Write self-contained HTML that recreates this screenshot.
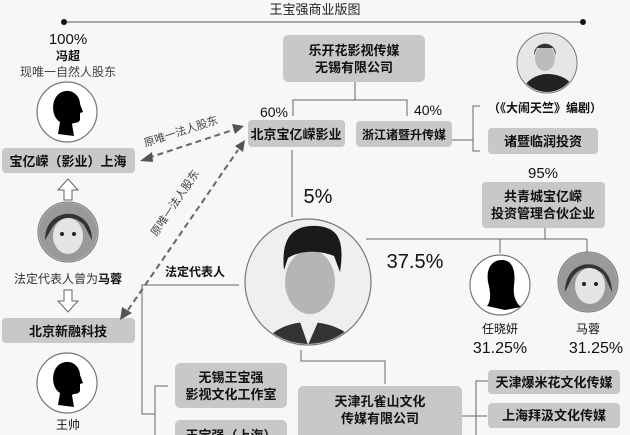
<!DOCTYPE html>
<html><head><meta charset="utf-8"><style>
html,body{margin:0;padding:0;background:#f7f7f7;}
svg{display:block;font-family:"Liberation Sans","Noto Sans CJK SC",sans-serif;}
.b{font-weight:bold;}
</style></head><body>
<svg width="630" height="435" viewBox="0 0 630 435" xmlns="http://www.w3.org/2000/svg">
<defs>
<clipPath id="c1"><circle cx="308" cy="282" r="62"/></clipPath>
<clipPath id="c2"><circle cx="547" cy="63" r="29"/></clipPath>
<clipPath id="cm1"><circle cx="68" cy="232" r="29"/></clipPath>
<clipPath id="cm2"><circle cx="588" cy="282" r="29"/></clipPath>
</defs>
<rect width="630" height="435" fill="#f7f7f7"/>
<text x="315" y="14" font-size="13" text-anchor="middle" fill="#222">王宝强商业版图</text>
<line x1="64" y1="22" x2="583" y2="22" stroke="#555" stroke-width="1"/>
<circle cx="64" cy="22" r="3" fill="#111"/><circle cx="583" cy="22" r="3" fill="#111"/>

<text x="68" y="44" font-size="15" text-anchor="middle" fill="#111">100%</text>
<text x="68" y="60" font-size="12" text-anchor="middle" fill="#111" class="b">冯超</text>
<text x="68" y="76" font-size="12" text-anchor="middle" fill="#444">现唯一自然人股东</text>
<circle cx="67" cy="112" r="30" fill="#fff" stroke="#777" stroke-width="1.2"/>
<path d="M58 134 L60 122 C50 116 51 96 62 92 C72 88 80 96 80 104 L83 112 L80 113 L80 120 C78 124 74 122 72 124 L74 136 Z" fill="#000"/>
<rect x="2" y="148" width="133" height="25" rx="4" fill="#c8c8c8"/>
<text x="68" y="166" font-size="13" text-anchor="middle" fill="#111" class="b">宝亿嵘（影业）上海</text>
<path d="M64 200 L64 190 L58 190 L68 179 L78 190 L72 190 L72 200 Z" fill="#fff" stroke="#666"/>
<circle cx="68" cy="232" r="30" fill="#ccc" stroke="#777"/>
<g clip-path="url(#cm1)"><rect x="38" y="202" width="60" height="60" fill="#999"/><ellipse cx="68" cy="236" rx="15" ry="18" fill="#e4e4e4"/><path d="M45 240 C45 205 92 205 92 240 L84 225 C75 215 60 215 52 228 Z" fill="#333"/><circle cx="62" cy="234" r="2" fill="#222"/><circle cx="74" cy="234" r="2" fill="#222"/></g>
<text x="68" y="283" font-size="12" text-anchor="middle" fill="#333">法定代表人曾为<tspan font-weight="bold" fill="#111">马蓉</tspan></text>
<path d="M64 290 L64 301 L58 301 L68 312 L78 301 L72 301 L72 290 Z" fill="#fff" stroke="#666"/>
<rect x="2" y="318" width="133" height="25" rx="4" fill="#c8c8c8"/>
<text x="68" y="336" font-size="13" text-anchor="middle" fill="#111" class="b">北京新融科技</text>
<circle cx="67" cy="383" r="30" fill="#fff" stroke="#777" stroke-width="1.2"/>
<path d="M58 405 L60 393 C50 387 51 367 62 363 C72 359 80 367 80 375 L83 383 L80 384 L80 391 C78 395 74 393 72 395 L74 407 Z" fill="#000"/>
<text x="68" y="429" font-size="12" text-anchor="middle" fill="#111">王帅</text>

<line x1="148" y1="158" x2="236" y2="129" stroke="#666" stroke-width="2" stroke-dasharray="6,4"/>
<path d="M140 161 L152 152 L153 162 Z" fill="#555"/>
<path d="M244 126 L232 124 L235 134 Z" fill="#555"/>
<line x1="128" y1="310" x2="238" y2="150" stroke="#666" stroke-width="2" stroke-dasharray="6,4"/>
<path d="M120 320 L122 307 L132 313 Z" fill="#555"/>
<path d="M245 140 L235 146 L243 152 Z" fill="#555"/>
<text x="182" y="135" font-size="11" fill="#444" text-anchor="middle" transform="rotate(-18 182 135)">原唯一法人股东</text>
<text x="178" y="205" font-size="11" fill="#444" text-anchor="middle" transform="rotate(-56 178 205)">原唯一法人股东</text>

<rect x="283" y="35" width="142" height="47" rx="5" fill="#c8c8c8"/>
<text x="354" y="55" font-size="13" text-anchor="middle" fill="#111" class="b">乐开花影视传媒</text>
<text x="354" y="72" font-size="13" text-anchor="middle" fill="#111" class="b">无锡有限公司</text>
<polyline points="355,82 355,100" fill="none" stroke="#666"/>
<polyline points="293,116 293,100 407,100 407,116" fill="none" stroke="#666"/>
<text x="274" y="117" font-size="14" text-anchor="middle" fill="#111">60%</text>
<text x="428" y="115" font-size="14" text-anchor="middle" fill="#111">40%</text>
<rect x="248" y="120" width="97" height="27" rx="4" fill="#c8c8c8"/>
<text x="296" y="139" font-size="13" text-anchor="middle" fill="#111" class="b">北京宝亿嵘影业</text>
<rect x="356" y="121" width="96" height="26" rx="4" fill="#c8c8c8"/>
<text x="404" y="139" font-size="12" text-anchor="middle" fill="#111" class="b">浙江诸暨升传媒</text>
<polyline points="452,140 473,140" fill="none" stroke="#666"/>
<polyline points="480,106 473,106 473,151 480,151" fill="none" stroke="#666"/>

<circle cx="547" cy="63" r="30" fill="#eee" stroke="#777"/>
<g clip-path="url(#c2)"><rect x="517" y="33" width="60" height="60" fill="#e6e6e6"/><path d="M520 95 C525 78 540 74 547 74 C558 74 572 78 578 95 Z" fill="#222"/><ellipse cx="545" cy="58" rx="10" ry="13" fill="#bbb"/><path d="M534 55 C534 40 556 40 556 55 L553 48 L537 48 Z" fill="#333"/></g>
<text x="545" y="112" font-size="12" text-anchor="middle" fill="#111" class="b">（《大闹天竺》编剧）</text>
<rect x="488" y="128" width="110" height="26" rx="4" fill="#c8c8c8"/>
<text x="543" y="146" font-size="13" text-anchor="middle" fill="#111" class="b">诸暨临润投资</text>
<text x="543" y="178" font-size="15" text-anchor="middle" fill="#111">95%</text>
<rect x="482" y="182" width="123" height="46" rx="4" fill="#c8c8c8"/>
<text x="543" y="201" font-size="13" text-anchor="middle" fill="#111" class="b">共青城宝亿嵘</text>
<text x="543" y="218" font-size="13" text-anchor="middle" fill="#111" class="b">投资管理合伙企业</text>
<polyline points="545,228 545,239" fill="none" stroke="#666"/>
<polyline points="366,239 587,239" fill="none" stroke="#666"/>
<polyline points="500,239 500,253" fill="none" stroke="#666"/>
<polyline points="587,239 587,252" fill="none" stroke="#666"/>

<line x1="292" y1="150" x2="292" y2="217" stroke="#666"/>
<text x="318" y="203" font-size="20" text-anchor="middle" fill="#111">5%</text>
<text x="415" y="268" font-size="20" text-anchor="middle" fill="#111">37.5%</text>
<circle cx="308" cy="282" r="63" fill="#eee" stroke="#777" stroke-width="1.2"/>
<g clip-path="url(#c1)"><rect x="245" y="219" width="126" height="126" fill="#efefef"/>
<path d="M260 350 C268 330 290 322 308 322 C328 322 352 330 360 350 Z" fill="#333"/>
<path d="M300 322 L308 345 L318 322 Z" fill="#eee"/>
<ellipse cx="310" cy="282" rx="25" ry="32" fill="#b5b5b5"/>
<path d="M284 270 C280 230 300 225 318 226 C338 228 345 240 340 272 L334 256 C320 250 300 250 288 258 Z" fill="#1a1a1a"/>
</g>
<text x="195" y="276" font-size="12" text-anchor="middle" fill="#111" class="b">法定代表人</text>
<polyline points="239,285 142,285 142,414 155,414" fill="none" stroke="#666"/>
<polyline points="168,386 155,386 155,435" fill="none" stroke="#666"/>
<rect x="175" y="363" width="112" height="45" rx="5" fill="#c8c8c8"/>
<text x="231" y="382" font-size="13" text-anchor="middle" fill="#111" class="b">无锡王宝强</text>
<text x="231" y="399" font-size="13" text-anchor="middle" fill="#111" class="b">影视文化工作室</text>
<rect x="175" y="420" width="112" height="30" rx="5" fill="#c8c8c8"/>
<text x="231" y="440" font-size="13" text-anchor="middle" fill="#111" class="b">王宝强（上海）</text>
<polyline points="301,350 301,361 385,361 385,384" fill="none" stroke="#666"/>
<rect x="298" y="386" width="164" height="60" rx="5" fill="#c8c8c8"/>
<text x="380" y="406" font-size="13" text-anchor="middle" fill="#111" class="b">天津孔雀山文化</text>
<text x="380" y="423" font-size="13" text-anchor="middle" fill="#111" class="b">传媒有限公司</text>
<polyline points="462,416 487,416" fill="none" stroke="#666"/>
<polyline points="488,381 476,381 476,435" fill="none" stroke="#666"/>
<rect x="488" y="370" width="132" height="24" rx="4" fill="#c8c8c8"/>
<text x="554" y="387" font-size="13" text-anchor="middle" fill="#111" class="b">天津爆米花文化传媒</text>
<rect x="488" y="403" width="132" height="25" rx="4" fill="#c8c8c8"/>
<text x="554" y="420" font-size="13" text-anchor="middle" fill="#111" class="b">上海拜汲文化传媒</text>

<circle cx="500" cy="285" r="30" fill="#fff" stroke="#777" stroke-width="1.2"/>
<path d="M487 306 C492 300 490 290 488 282 C486 268 492 260 502 260 C512 260 516 270 514 285 C513 295 515 302 521 307 L505 310 Z" fill="#000"/>
<text x="500" y="333" font-size="12" text-anchor="middle" fill="#111">任晓妍</text>
<text x="500" y="353" font-size="16" text-anchor="middle" fill="#111">31.25%</text>
<circle cx="588" cy="282" r="30" fill="#bbb" stroke="#777"/>
<g clip-path="url(#cm2)"><rect x="558" y="252" width="60" height="60" fill="#999"/><ellipse cx="590" cy="286" rx="15" ry="18" fill="#e4e4e4"/><path d="M565 292 C565 255 612 255 612 292 L604 275 C595 265 580 265 572 278 Z" fill="#333"/><circle cx="584" cy="284" r="2" fill="#222"/><circle cx="596" cy="284" r="2" fill="#222"/></g>
<text x="588" y="333" font-size="12" text-anchor="middle" fill="#111">马蓉</text>
<text x="596" y="353" font-size="16" text-anchor="middle" fill="#111">31.25%</text>
</svg>
</body></html>
